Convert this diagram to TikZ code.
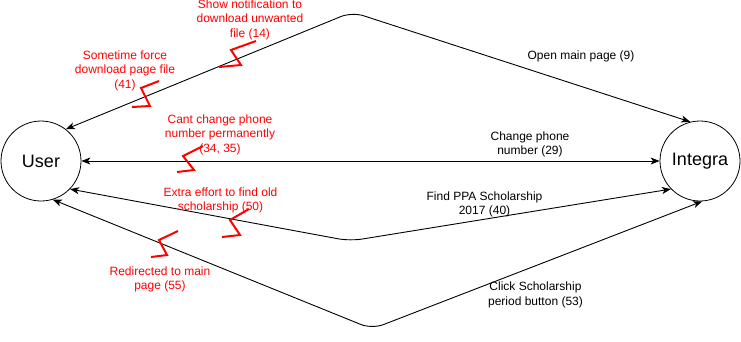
\documentclass[tikz,border=0pt]{standalone}
\usepackage{fontspec}
\setmainfont{Liberation Sans}
\usetikzlibrary{arrows.meta}
\definecolor{warnred}{RGB}{255,0,0}
\begin{document}
\begin{tikzpicture}[x=1pt,y=-1pt,
  actor/.style={draw, circle, minimum size=80pt, inner sep=0pt, line width=0.8pt,
    font=\fontsize{18}{21}\selectfont},
  flow/.style={draw, line width=0.9pt, rounded corners=12pt,
    {Stealth[length=9pt,width=7pt,inset=2.5pt]}-{Stealth[length=9pt,width=7pt,inset=2.5pt]}},
  lbl/.style={align=center, inner sep=0pt, font=\fontsize{12}{14.5}\selectfont},
  issue/.style={lbl, text=warnred},
  bolt/.style={draw=warnred, line width=2pt, line join=miter}
]
\useasboundingbox (0,0) rectangle (741,341);

% actors
\node[actor] (user) at (41,161) {User};
\node[actor] (integra) at (700,161) {Integra};

% interaction flows
\coordinate (peak) at (352,12);
\coordinate (dipA) at (350,241);
\coordinate (dipB) at (372,329);
\draw[flow] (user.52) -- (peak) -- (integra.104);
\draw[flow] (user.east) -- (integra.west);
\draw[flow] (user.-44) -- (dipA) -- (integra.-136);
\draw[flow] (user.-73) -- (dipB) -- (integra.-87);

% flow labels
\node[lbl] (lopen) at (581,56) {Open main page (9)};
\node[lbl] (lphone) at (530,144.5) {Change phone\\number (29)};
\node[lbl] (lfind) at (484.5,204.5) {Find PPA Scholarship\\2017 (40)};
\node[lbl] (lclick) at (535.5,295) {Click Scholarship\\period button (53)};

% problem notes
\node[issue] (inotify) at (250,19.5) {Show notification to\\download unwanted\\file (14)};
\node[issue] (iforce) at (125,70.5) {Sometime force\\download page file\\(41)};
\node[issue] (iphone) at (220,134.5) {Cant change phone\\number permanently\\(34, 35)};
\node[issue] (ieffort) at (220.5,200.5) {Extra effort to find old\\scholarship (50)};
\node[issue] (iredirect) at (160,279.5) {Redirected to main\\page (55)};

% break marks on the flows
\draw[bolt] (256,41) -- (231,50) -- (241,65) -- (219,67);
\draw[bolt] (159,81) -- (141,88) -- (150,106) -- (132,107);
\draw[bolt] (203,146) -- (183,156) -- (194,170) -- (177,172);
\draw[bolt] (249,209) -- (230,220) -- (240,235) -- (222,237);
\draw[bolt] (178,231) -- (159,240) -- (167,255) -- (151,257);
\end{tikzpicture}
\end{document}
